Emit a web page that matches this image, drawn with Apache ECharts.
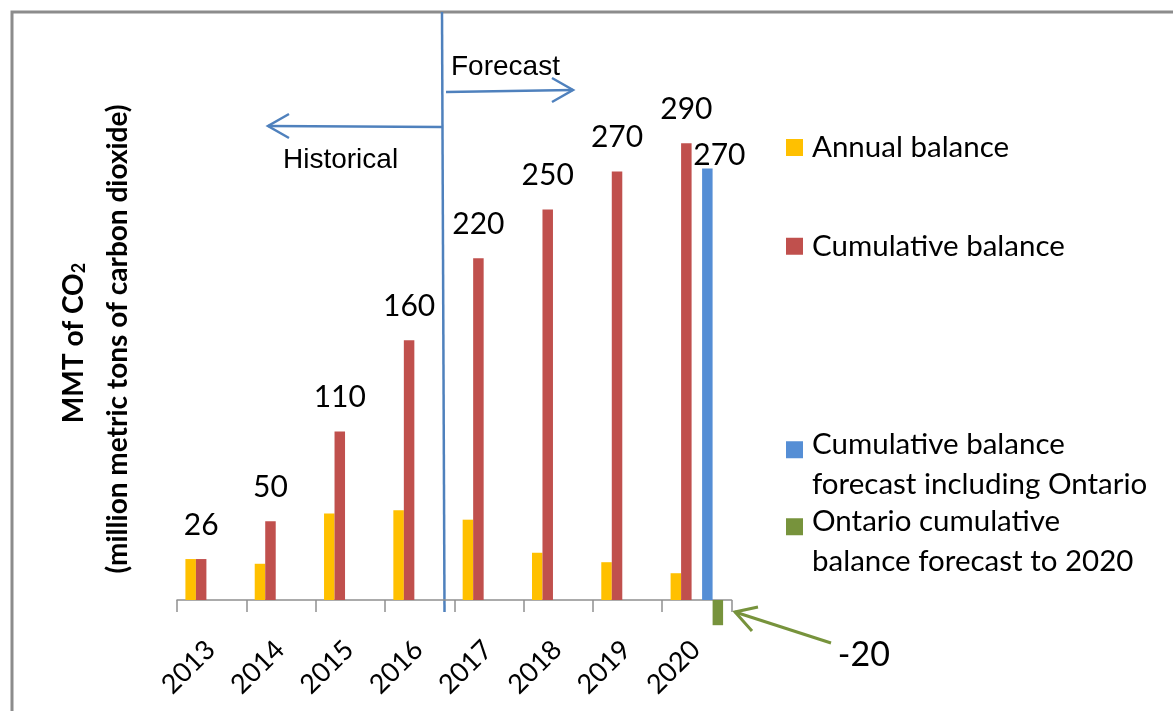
<!DOCTYPE html>
<html><head><meta charset="utf-8">
<script src="https://cdn.jsdelivr.net/npm/echarts@6/dist/echarts.min.js"></script>
<style>html,body{margin:0;padding:0;background:#fff}#c{width:1173px;height:711px}</style>
</head><body><div id="c"></div>
<script>
const categories = ['2013', '2014', '2015', '2016', '2017', '2018', '2019', '2020'];
const annualBalance = [26, 23, 55, 57, 51, 30, 24, 17];
const cumulativeBalance = [26, 50, 107, 165, 217, 248, 272, 290];
const cumulativeLabels = ['26', '50', '110', '160', '220', '250', '270', '290'];
const forecastInclOntario = [null, null, null, null, null, null, null, 274];
const forecastInclOntarioLabels = ['', '', '', '', '', '', '', '270'];
const ontarioForecast = [null, null, null, null, null, null, null, -16];
const ontarioLabels = ['', '', '', '', '', '', '', '-20'];
const seriesNames = ['Annual balance', 'Cumulative balance', 'Cumulative balance forecast including Ontario', 'Ontario cumulative balance forecast to 2020'];
const legendLines = [['Annual balance'], ['Cumulative balance'], ['Cumulative balance', 'forecast including Ontario'], ['Ontario cumulative', 'balance forecast to 2020']];

const FONT = 'Lato, "Open Sans", sans-serif';
const ARIAL = '"Liberation Sans", Arial, sans-serif';
const BW = 10.5;
const blue = '#4F81BD';
const green = '#77933C';

const chart = echarts.init(document.getElementById('c'), null, {renderer: 'canvas'});

function legendFor(i, top) {
  const lines = legendLines[i];
  const txt = (lines.length > 1 ? '{e| }\n' : '') + lines.map(l => '{a|' + l + '}').join('\n');
  return {
    show: true, left: 786, top: top, padding: 0, orient: 'vertical',
    selectedMode: false, icon: 'rect', itemWidth: 17, itemHeight: 17,
    data: [seriesNames[i]],
    formatter: () => txt,
    textStyle: {
      rich: {
        a: {fontFamily: FONT, fontSize: 29.5, lineHeight: 39.5, color: '#000', padding: [0, 0, 0, 4]},
        e: {fontSize: 1, lineHeight: 29.5}
      }
    }
  };
}

const option = {
  backgroundColor: '#fff',
  animation: false,
  grid: {left: 177, right: 441.5, top: 96, bottom: 111, containLabel: false, outerBoundsMode: 'none'},
  legend: [
    legendFor(0, 132.5),
    legendFor(1, 231.25),
    legendFor(2, 409.75),
    legendFor(3, 486.75)
  ],
  xAxis: {
    type: 'category', data: categories, boundaryGap: true,
    axisLine: {onZero: false, lineStyle: {color: '#909090', width: 1.5}},
    axisTick: {show: true, length: 12, alignWithLabel: false, lineStyle: {color: '#909090', width: 1.5}},
    axisLabel: {rotate: 45, margin: 25, verticalAlign: 'top', padding: [0, 15, 0, 0],
      fontFamily: FONT, fontSize: 27, color: '#000', interval: 0}
  },
  yAxis: {
    type: 'value', min: 0, max: 320,
    axisLine: {show: false}, axisTick: {show: false}, axisLabel: {show: false}, splitLine: {show: false}
  },
  series: [
    {name: seriesNames[0], type: 'bar', data: annualBalance, barWidth: BW, barGap: '0%',
      itemStyle: {color: '#FFC000'}},
    {name: seriesNames[1], type: 'bar', data: cumulativeBalance, barWidth: BW, barGap: '0%',
      itemStyle: {color: '#C0504D'},
      label: {show: true, position: 'top', distance: 19, fontFamily: FONT, fontSize: 30, color: '#000',
        formatter: p => cumulativeLabels[p.dataIndex]}},
    {name: 'spacer', type: 'bar', data: [null, null, null, null, null, null, null, null], barWidth: BW, barGap: '0%'},
    {name: seriesNames[2], type: 'bar', data: forecastInclOntario, barWidth: BW, barGap: '0%',
      itemStyle: {color: '#558ED5'},
      label: {show: true, position: 'top', distance: 0, offset: [12, 2], fontFamily: FONT, fontSize: 30, color: '#000',
        formatter: p => forecastInclOntarioLabels[p.dataIndex]}},
    {name: seriesNames[3], type: 'bar', data: ontarioForecast, barWidth: BW, barGap: '0%', clip: false,
      itemStyle: {color: green},
      label: {show: true, position: 'bottom', distance: 0, offset: [146, 13], fontFamily: FONT, fontSize: 34, color: '#000',
        formatter: p => ontarioLabels[p.dataIndex]}}
  ],
  graphic: [
    {type: 'rect', silent: true, z: -10, shape: {x: 12, y: 12, width: 1250, height: 800},
      style: {fill: 'none', stroke: '#8c8c8c', lineWidth: 3}},
    {type: 'line', silent: true, shape: {x1: 442, y1: 12, x2: 444.5, y2: 612}, style: {stroke: blue, lineWidth: 2.5}},
    {type: 'polyline', silent: true, shape: {points: [[446, 92], [573, 90]]}, style: {stroke: blue, lineWidth: 2.5, fill: null}},
    {type: 'polyline', silent: true, shape: {points: [[552, 78], [573, 90], [552, 102]]}, style: {stroke: blue, lineWidth: 2.5, fill: null}},
    {type: 'polyline', silent: true, shape: {points: [[442, 127], [268, 126]]}, style: {stroke: blue, lineWidth: 2.5, fill: null}},
    {type: 'polyline', silent: true, shape: {points: [[289, 114], [268, 126], [289, 138]]}, style: {stroke: blue, lineWidth: 2.5, fill: null}},
    {type: 'text', silent: true, x: 451, y: 67, style: {text: 'Forecast', font: '28px ' + ARIAL, fill: '#000', textAlign: 'left', textVerticalAlign: 'middle'}},
    {type: 'text', silent: true, x: 283, y: 160, style: {text: 'Historical', font: '28px ' + ARIAL, fill: '#000', textAlign: 'left', textVerticalAlign: 'middle'}},
    {type: 'polyline', silent: true, shape: {points: [[831, 643], [735, 612]]}, style: {stroke: green, lineWidth: 3, fill: null}},
    {type: 'polyline', silent: true, shape: {points: [[758, 607], [735, 612], [752, 631]]}, style: {stroke: green, lineWidth: 3, fill: null}},
    {type: 'text', silent: true, x: 72, y: 343, rotation: Math.PI / 2,
      style: {text: '{m|MMT of CO}{s|2}', textAlign: 'center', textVerticalAlign: 'middle', fill: '#000',
        rich: {m: {fontFamily: FONT, fontSize: 28, fontWeight: 'bold', lineHeight: 32, verticalAlign: 'bottom'},
               s: {fontFamily: FONT, fontSize: 18, fontWeight: 'bold', lineHeight: 18, verticalAlign: 'bottom'}}}},
    {type: 'text', silent: true, x: 118, y: 339, rotation: Math.PI / 2,
      style: {text: '(million metric tons of carbon dioxide)', font: 'bold 28px ' + FONT, fill: '#000', textAlign: 'center', textVerticalAlign: 'middle'}}
  ]
};
chart.setOption(option);
</script></body></html>
